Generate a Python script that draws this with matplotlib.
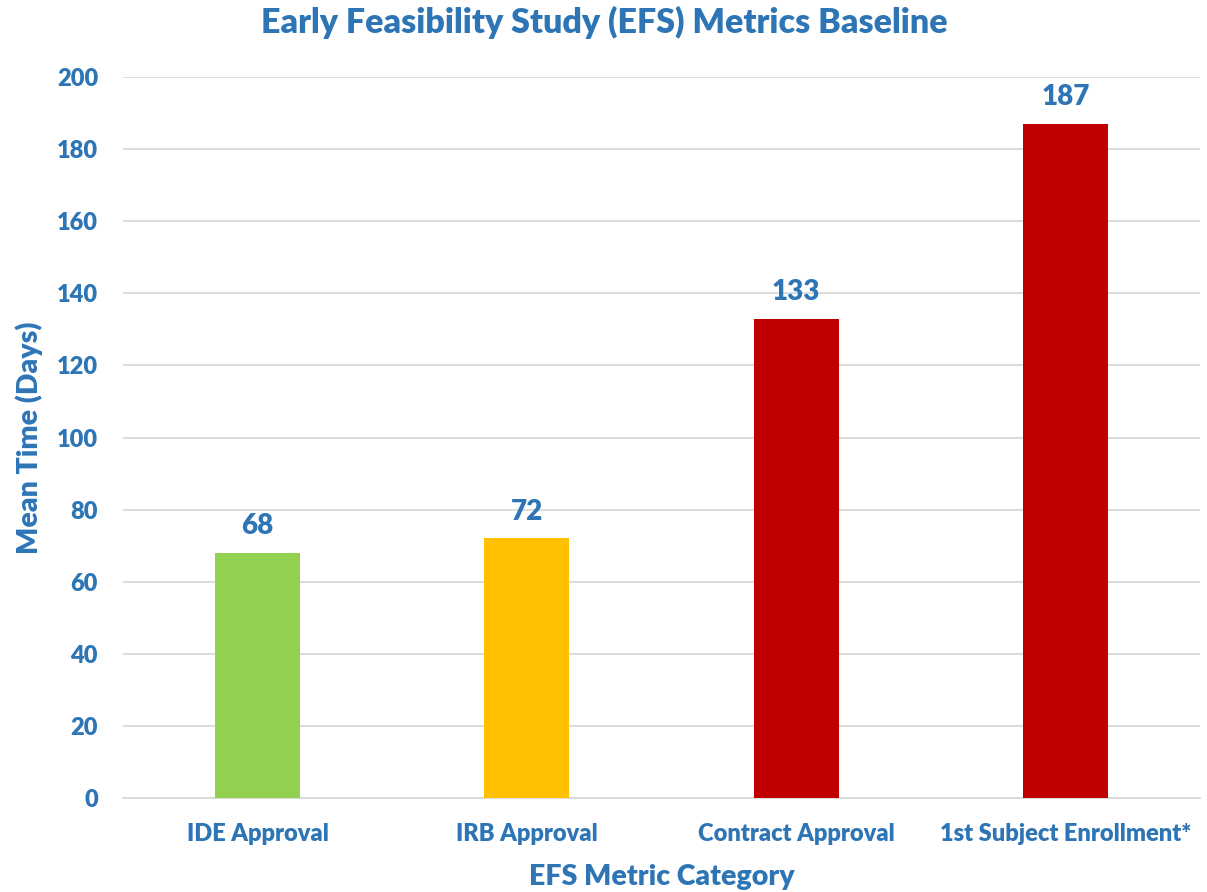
import matplotlib.pyplot as plt

categories = ['IDE Approval', 'IRB Approval', 'Contract Approval', '1st Subject Enrollment*']
values = [68, 72, 133, 187]
bar_colors = ['#92D050', '#FFC000', '#C00000', '#C00000']

blue = '#2E75B6'
plt.rcParams['font.family'] = ['Lato', 'DejaVu Sans']
plt.rcParams['font.weight'] = 'heavy'

fig = plt.figure(figsize=(12.07, 8.92), dpi=100)
ax = fig.add_axes([123 / 1207, 1 - 798 / 892, 1077 / 1207, 721 / 892])

x = range(len(categories))
ax.bar(x, values, width=0.316, color=bar_colors, zorder=3)
for xi, v in zip(x, values):
    ax.text(xi, v + 3.8, str(v), ha='center', va='bottom', color=blue,
            fontsize=20, fontweight='heavy')

ax.set_xlim(-0.5, len(categories) - 0.5)
ax.set_ylim(0, 200)
ax.set_yticks(range(0, 201, 20))
ax.yaxis.grid(True, color='#D9D9D9', linewidth=1.3, zorder=0)
ax.set_xticks(list(x))
ax.set_xticklabels(categories)
ax.tick_params(axis='both', length=0, colors=blue, labelsize=17)
ax.tick_params(axis='x', pad=18)
ax.tick_params(axis='y', pad=18)
for lab in ax.get_xticklabels() + ax.get_yticklabels():
    lab.set_fontweight('heavy')
for s in ['top', 'right', 'left']:
    ax.spines[s].set_visible(False)
ax.spines['bottom'].set_color('#D9D9D9')
ax.spines['bottom'].set_linewidth(1.3)

ax.set_ylabel('Mean Time (Days)', color=blue, fontsize=20.5, fontweight='heavy', labelpad=10)
ax.set_xlabel('EFS Metric Category', color=blue, fontsize=20.5, fontweight='heavy', labelpad=14)
fig.text(604 / 1207, 1 - 22 / 892, 'Early Feasibility Study (EFS) Metrics Baseline',
         ha='center', va='center', color=blue, fontsize=24.5, fontweight='heavy')

fig.savefig('out.png', dpi=100)
